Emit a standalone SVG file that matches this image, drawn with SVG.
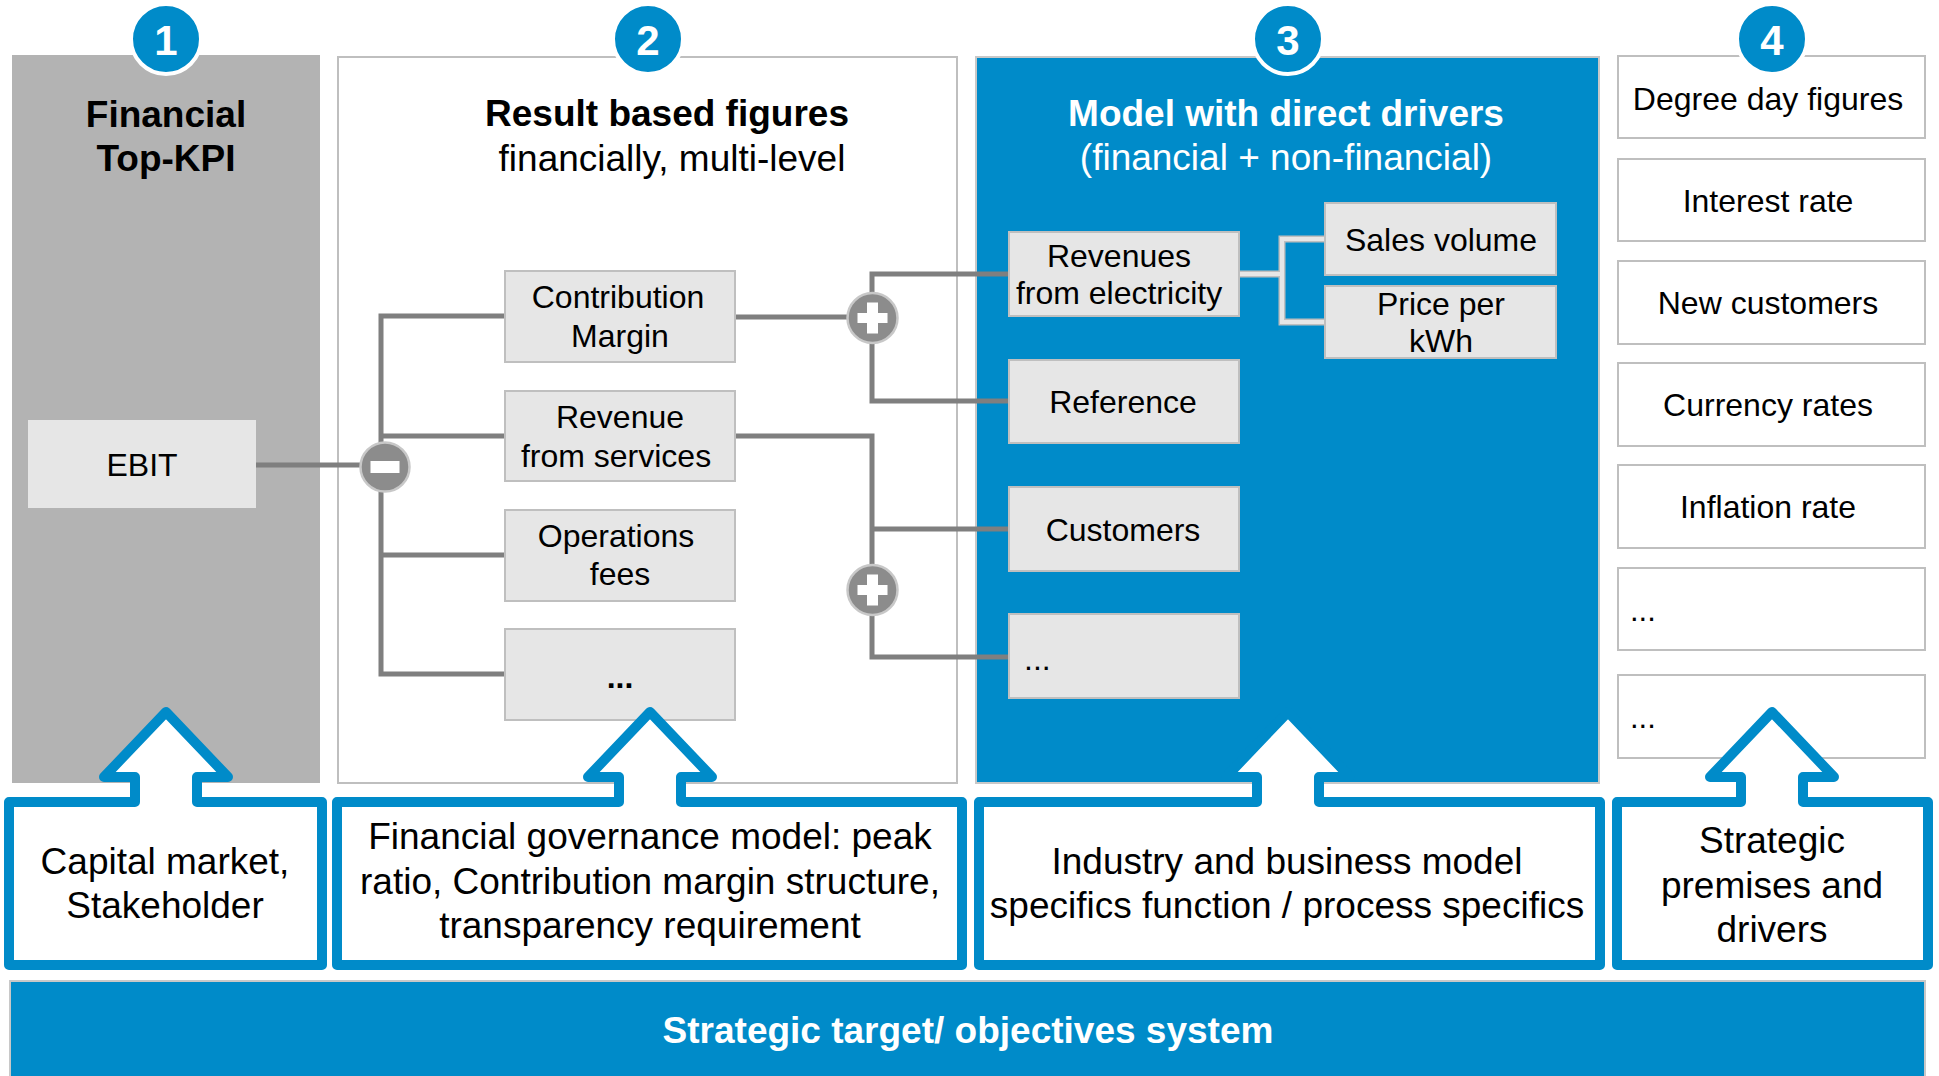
<svg xmlns="http://www.w3.org/2000/svg" width="1939" height="1076" viewBox="0 0 1939 1076">
<style>
text { font-family: "Liberation Sans", Arial, sans-serif; fill:#000; }
.title { font-size:37px; font-weight:bold; text-anchor:middle; }
.sub { font-size:37px; text-anchor:middle; }
.wt { fill:#fff; }
.nbox { fill:#E6E6E6; stroke:#BFBFBF; stroke-width:2; }
.wbox { fill:#fff; stroke:#BFBFBF; stroke-width:2; }
.nt { font-size:32px; text-anchor:middle; }
.bt { font-size:37px; text-anchor:middle; }
.conn { stroke:#7F7F7F; stroke-width:5; fill:none; }
.lconn1 { stroke:#BFBFBF; stroke-width:7; fill:none; }
.lconn2 { stroke:#E6E6E6; stroke-width:4; fill:none; }
.numc { fill:#008BC9; stroke:#fff; stroke-width:4; }
.numt { font-size:42px; font-weight:bold; fill:#fff; text-anchor:middle; }
.op { fill:#8C8C8C; stroke:#C8C8C8; stroke-width:2.5; }
.sym { fill:#fff; }
.abox { fill:#fff; stroke:#008BC9; stroke-width:10; stroke-linejoin:round; }
</style>

<!-- Panels -->
<g id="panel1">
  <rect x="12" y="55" width="308" height="728" fill="#B3B3B3"/>
  <text class="title" x="166" y="127">Financial</text>
  <text class="title" x="166" y="171">Top-KPI</text>
</g>
<g id="panel2">
  <rect x="338" y="57" width="619" height="726" fill="#fff" stroke="#BFBFBF" stroke-width="2"/>
  <text class="title" x="667" y="126">Result based figures</text>
  <text class="sub" x="672" y="171">financially, multi-level</text>
</g>
<g id="panel3">
  <rect x="976" y="57" width="623" height="726" fill="#008BC9" stroke="#C8C8C8" stroke-width="2"/>
  <text class="title wt" x="1286" y="126">Model with direct drivers</text>
  <text class="sub wt" x="1286" y="170">(financial + non-financial)</text>
</g>

<!-- Number badges -->
<g id="badge1"><circle class="numc" cx="166" cy="39" r="35"/><text class="numt" x="166" y="55">1</text></g>
<g id="badge2"><circle class="numc" cx="648" cy="39" r="35"/><text class="numt" x="648" y="55">2</text></g>
<g id="badge3"><circle class="numc" cx="1288" cy="39" r="35"/><text class="numt" x="1288" y="55">3</text></g>

<!-- Connectors -->
<g id="connectors">
  <path class="conn" d="M256 465 H384"/>
  <path class="conn" d="M505 316 H381 V674 H505"/>
  <path class="conn" d="M381 436 H505"/>
  <path class="conn" d="M381 555 H505"/>
  <path class="conn" d="M735 317 H872"/>
  <path class="conn" d="M1009 274 H872 V401 H1009"/>
  <path class="conn" d="M735 436 H872 V657 H1009"/>
  <path class="conn" d="M872 529 H1009"/>
  <path class="lconn1" d="M1239 274 H1282"/>
  <path class="lconn1" d="M1325 239 H1282 V322 H1325"/>
  <path class="lconn2" d="M1239 274 H1282"/>
  <path class="lconn2" d="M1325 239 H1282 V322 H1325"/>
</g>

<!-- Operators -->
<g id="op-minus"><circle class="op" cx="385" cy="467" r="24.5"/><rect class="sym" x="370.5" y="461" width="29" height="12"/></g>
<g id="op-plus1"><circle class="op" cx="872.5" cy="318" r="25"/><rect class="sym" x="857.5" y="313" width="30" height="10"/><rect class="sym" x="867" y="302.5" width="11" height="31"/></g>
<g id="op-plus2"><circle class="op" cx="872.5" cy="590" r="25"/><rect class="sym" x="857.5" y="585" width="30" height="10"/><rect class="sym" x="867" y="574.5" width="11" height="31"/></g>

<!-- Panel 1 node -->
<g id="ebit"><rect x="28" y="420" width="228" height="88" fill="#E6E6E6"/><text class="nt" x="142" y="476">EBIT</text></g>

<!-- Panel 2 nodes -->
<g id="contribution-margin"><rect class="nbox" x="505" y="271" width="230" height="91"/><text class="nt" x="618" y="308">Contribution</text><text class="nt" x="620" y="347">Margin</text></g>
<g id="revenue-services"><rect class="nbox" x="505" y="391" width="230" height="90"/><text class="nt" x="620" y="428">Revenue</text><text class="nt" x="616" y="467">from services</text></g>
<g id="operations-fees"><rect class="nbox" x="505" y="510" width="230" height="91"/><text class="nt" x="616" y="547">Operations</text><text class="nt" x="620" y="585">fees</text></g>
<g id="more2"><rect class="nbox" x="505" y="629" width="230" height="91"/><text class="nt" x="620" y="688" font-weight="bold">...</text></g>

<!-- Panel 3 nodes -->
<g id="revenues-electricity"><rect class="nbox" x="1009" y="232" width="230" height="84"/><text class="nt" x="1119" y="267">Revenues</text><text class="nt" x="1119" y="304">from electricity</text></g>
<g id="sales-volume"><rect class="nbox" x="1325" y="203" width="231" height="72"/><text class="nt" x="1441" y="251">Sales volume</text></g>
<g id="price-kwh"><rect class="nbox" x="1325" y="286" width="231" height="72"/><text class="nt" x="1441" y="315">Price per</text><text class="nt" x="1441" y="352">kWh</text></g>
<g id="reference"><rect class="nbox" x="1009" y="360" width="230" height="83"/><text class="nt" x="1123" y="413">Reference</text></g>
<g id="customers"><rect class="nbox" x="1009" y="487" width="230" height="84"/><text class="nt" x="1123" y="541">Customers</text></g>
<g id="more3"><rect class="nbox" x="1009" y="614" width="230" height="84"/><text x="1024" y="670" font-size="32">...</text></g>

<!-- Panel 4 nodes -->
<g id="degree-day"><rect class="wbox" x="1618" y="56" width="307" height="82"/><text class="nt" x="1768" y="110">Degree day figures</text></g>
<g id="badge4"><circle class="numc" cx="1772" cy="39" r="35"/><text class="numt" x="1772" y="55">4</text></g>
<g id="interest-rate"><rect class="wbox" x="1618" y="159" width="307" height="82"/><text class="nt" x="1768" y="212">Interest rate</text></g>
<g id="new-customers"><rect class="wbox" x="1618" y="261" width="307" height="83"/><text class="nt" x="1768" y="314">New customers</text></g>
<g id="currency-rates"><rect class="wbox" x="1618" y="363" width="307" height="83"/><text class="nt" x="1768" y="416">Currency rates</text></g>
<g id="inflation-rate"><rect class="wbox" x="1618" y="465" width="307" height="83"/><text class="nt" x="1768" y="518">Inflation rate</text></g>
<g id="more4a"><rect class="wbox" x="1618" y="568" width="307" height="82"/><text x="1630" y="621" font-size="31">...</text></g>
<g id="more4b"><rect class="wbox" x="1618" y="675" width="307" height="83"/><text x="1630" y="728" font-size="31">...</text></g>

<!-- Bottom boxes with arrows -->
<g id="capital-market">
  <path class="abox" d="M9 965 V802 H135 V777 H104 L166 712 L228 777 H197 V802 H322 V965 Z"/>
  <text class="bt" x="165" y="874">Capital market,</text>
  <text class="bt" x="165" y="918">Stakeholder</text>
</g>
<g id="governance-model">
  <path class="abox" d="M337 965 V802 H619 V777 H588 L650 712 L712 777 H681 V802 H962 V965 Z"/>
  <text class="bt" x="650" y="849">Financial governance model: peak</text>
  <text class="bt" x="650" y="894">ratio, Contribution margin structure,</text>
  <text class="bt" x="650" y="938">transparency requirement</text>
</g>
<g id="industry-model">
  <path class="abox" d="M979 965 V802 H1257 V777 H1226 L1288 712 L1350 777 H1319 V802 H1600 V965 Z"/>
  <text class="bt" x="1287" y="874">Industry and business model</text>
  <text class="bt" x="1287" y="918">specifics function / process specifics</text>
</g>
<g id="strategic-premises">
  <path class="abox" d="M1617 965 V802 H1741 V777 H1710 L1772 712 L1834 777 H1803 V802 H1928 V965 Z"/>
  <text class="bt" x="1772" y="853">Strategic</text>
  <text class="bt" x="1772" y="898">premises and</text>
  <text class="bt" x="1772" y="942">drivers</text>
</g>

<!-- Bottom bar -->
<g id="strategic-target">
  <rect x="10" y="981" width="1915" height="100" fill="#008BC9" stroke="#C8C8C8" stroke-width="2"/>
  <text class="title wt" x="968" y="1043" font-size="36">Strategic target/ objectives system</text>
</g>
</svg>
